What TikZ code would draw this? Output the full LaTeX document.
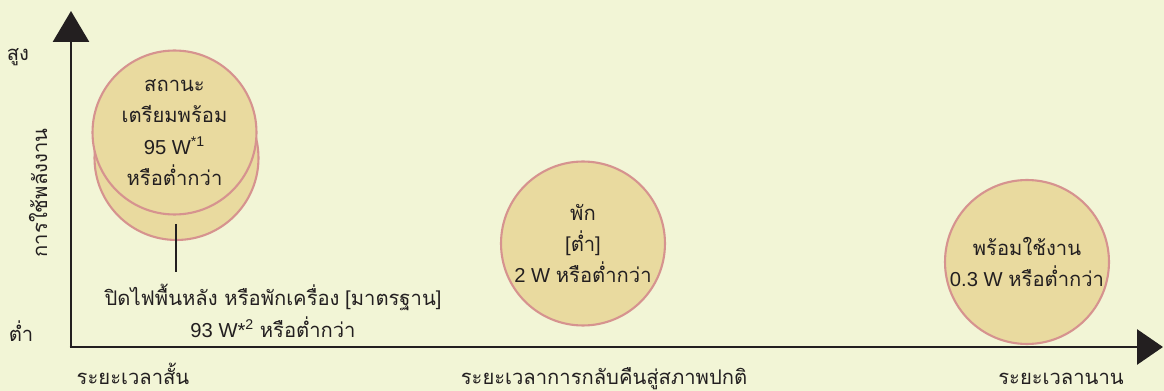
\documentclass[tikz,border=0pt]{standalone}
\usepackage{fontspec}
\setmainfont{Liberation Sans}
\newfontfamily\thaifont[Script=Thai]{Loma}
\newcommand{\T}[1]{{\thaifont #1}}
\usetikzlibrary{arrows.meta}
\definecolor{bgc}{HTML}{F2F5D6}
\definecolor{circfill}{HTML}{E9DA9F}
\definecolor{circline}{HTML}{D6938F}
\definecolor{ink}{HTML}{231F20}
\tikzset{
  bubble/.style={circle, fill=circfill, draw=circline, line width=1.2pt, minimum size=3.28cm, inner sep=0pt, align=center, text=ink, font=\fontsize{11.5}{17.8}\selectfont},
  lbl/.style={text=ink, font=\fontsize{11.5}{17.8}\selectfont, align=center, inner sep=0pt},
  axlbl/.style={text=ink, font=\fontsize{11.5}{17.8}\selectfont, inner sep=0pt},
  axis/.style={draw=ink, line width=1.7pt},
}
\begin{document}
\begin{tikzpicture}[x=0.02cm, y=-0.02cm]
\fill[bgc] (0,0) rectangle (1164,391);
\useasboundingbox (0,0) rectangle (1164,391);
% axes
\coordinate (origin) at (71,347);
\coordinate (ytip) at (71,11);
\coordinate (xtip) at (1163,347);
\draw[axis, -{Triangle[width=0.72cm, length=0.62cm]}] (origin) -- (ytip);
\draw[axis, -{Triangle[width=0.70cm, length=0.52cm]}] ([xshift=-0.85pt]origin) -- (xtip);
% axis labels
\node[axlbl] (high) at (18,57) {\T{สูง}};
\node[axlbl] (low) at (21,331) {\T{ต่ำ}};
\node[axlbl, rotate=90] (energy) at (38,193) {\T{การใช้พลังงาน}};
\node[axlbl, anchor=base] (short) at (133,385) {\T{ระยะเวลาสั้น}};
\node[axlbl, anchor=base] (recover) at (604,385) {\T{ระยะเวลาการกลับคืนสู่สภาพปกติ}};
\node[axlbl, anchor=base] (long) at (1061,385) {\T{ระยะเวลานาน}};
% standby bubbles
\node[bubble] (standbyback) at (176.5,158) {};
\node[bubble] (standby) at (174.5,132.5) {\T{สถานะ}\\\T{เตรียมพร้อม}\\95 W\textsuperscript{*1}\\\T{หรือต่ำกว่า}};
\coordinate (stemtop) at (176,224);
\coordinate (stembot) at (176,272);
\draw[ink, line width=1.7pt] (stemtop) -- (stembot);
\node[lbl] (offlabel) at (273,311) {\T{ปิดไฟพื้นหลัง หรือพักเครื่อง} [\T{มาตรฐาน}]\\93 W*\textsuperscript{2} \T{หรือต่ำกว่า}};
% rest bubble
\node[bubble] (rest) at (583,243.5) {\T{พัก}\\{[}\T{ต่ำ}]\\2 W \T{หรือต่ำกว่า}};
% ready bubble
\node[bubble] (ready) at (1027,262) {\T{พร้อมใช้งาน}\\0.3 W \T{หรือต่ำกว่า}};
\end{tikzpicture}
\end{document}
